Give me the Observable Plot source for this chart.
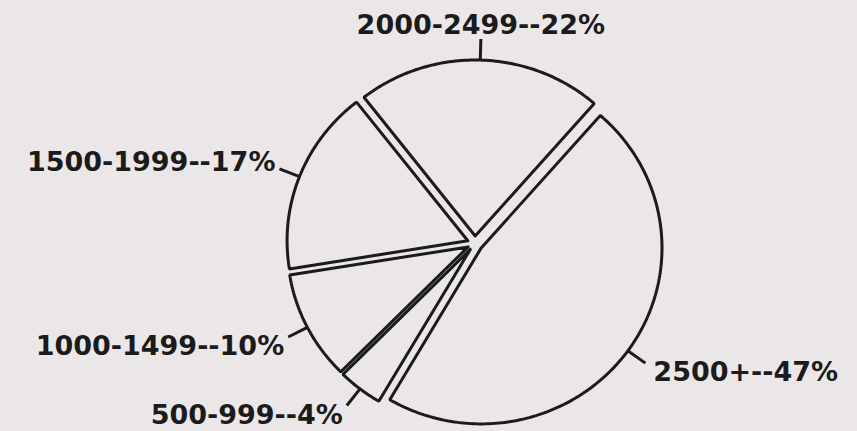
<!DOCTYPE html>
<html>
<head>
<meta charset="utf-8">
<script src="https://cdn.jsdelivr.net/npm/d3@7"></script>
<script src="https://cdn.jsdelivr.net/npm/@observablehq/plot@0.6"></script>
<style>
  html, body { margin: 0; padding: 0; background: #ebe7e8; }
  #chart svg { display: block; }
</style>
</head>
<body>
<div id="chart"></div>
<script>
// Household size classes, in the clockwise order they are drawn
const ranges = ["2500+", "500-999", "1000-1499", "1500-1999", "2000-2499"];
const shares = [47, 4, 10, 17, 22];
const labels = ["2500+--47%", "500-999--4%", "1000-1499--10%", "1500-1999--17%", "2000-2499--22%"];

// Layout
const W = 857, H = 431;
const cx = 474.5, cy = 243;   // pie centre, pixels from top-left
const kx = 1.027;             // the plotter drew the pie slightly wider than tall
const startAngle = 41.2;      // degrees clockwise from north where the first slice starts
const R = 176;                // radius
const explode = 7.5;          // every slice is pulled out from the centre
const leader = 21;            // leader tick length

const total = d3.sum(shares);
const toRad = (deg) => deg * Math.PI / 180;

let acc = 0;
const slices = ranges.map((range, i) => {
  const a0 = startAngle + (acc / total) * 360;
  acc += shares[i];
  const a1 = startAngle + (acc / total) * 360;
  const mid = (a0 + a1) / 2;
  const s = Math.sin(toRad(mid)), c = Math.cos(toRad(mid));
  return {range, share: shares[i], label: labels[i], a0, a1, mid, s, c, ox: explode * s, oy: explode * c};
});

// Outline of each wedge: apex, arc, back to apex (y points up)
const outline = slices.flatMap((d) => {
  const pts = [{range: d.range, x: d.ox, y: d.oy}];
  const n = Math.max(2, Math.ceil(d.a1 - d.a0));
  for (let k = 0; k <= n; ++k) {
    const a = toRad(d.a0 + (d.a1 - d.a0) * k / n);
    pts.push({range: d.range, x: d.ox + R * Math.sin(a), y: d.oy + R * Math.cos(a)});
  }
  pts.push({range: d.range, x: d.ox, y: d.oy});
  return pts;
});

// Leader ticks and label anchors
const ticks = slices.map((d) => ({
  ...d,
  x1: d.ox + R * d.s, y1: d.oy + R * d.c,
  x2: d.ox + (R + leader) * d.s, y2: d.oy + (R + leader) * d.c,
  textAnchor: Math.abs(d.s) < 0.2 ? "middle" : d.s > 0 ? "start" : "end",
  lineAnchor: d.c > 0 ? "bottom" : "top"
}));

const ink = "#1b1b1b";

const textMarks = Array.from(d3.group(ticks, (d) => d.textAnchor + "|" + d.lineAnchor), ([key, rows]) => {
  const [textAnchor, lineAnchor] = key.split("|");
  return Plot.text(rows, {
    x: "x2", y: "y2", text: "label",
    textAnchor, lineAnchor,
    dx: textAnchor === "start" ? 8 : textAnchor === "end" ? -4 : 0,
    dy: lineAnchor === "bottom" ? (textAnchor === "middle" ? -5 : 2) : -1,
    fontFamily: "DejaVu Sans", fontWeight: "bold", fontSize: 27,
    fill: ink,
    style: {letterSpacing: "1.5px"}
  });
});

const chart = Plot.plot({
  width: W,
  height: H,
  margin: 0,
  style: {background: "#ebe7e8", overflow: "visible"},
  x: {domain: [-cx / kx, (W - cx) / kx], axis: null},
  y: {domain: [cy - H, cy], axis: null},
  marks: [
    Plot.line(outline, {
      x: "x", y: "y", z: "range",
      stroke: ink, strokeWidth: 3, strokeLinejoin: "miter", fill: "none"
    }),
    Plot.link(ticks, {
      x1: "x1", y1: "y1", x2: "x2", y2: "y2",
      stroke: ink, strokeWidth: 3
    }),
    ...textMarks
  ]
});

document.getElementById("chart").append(chart);
</script>
</body>
</html>
